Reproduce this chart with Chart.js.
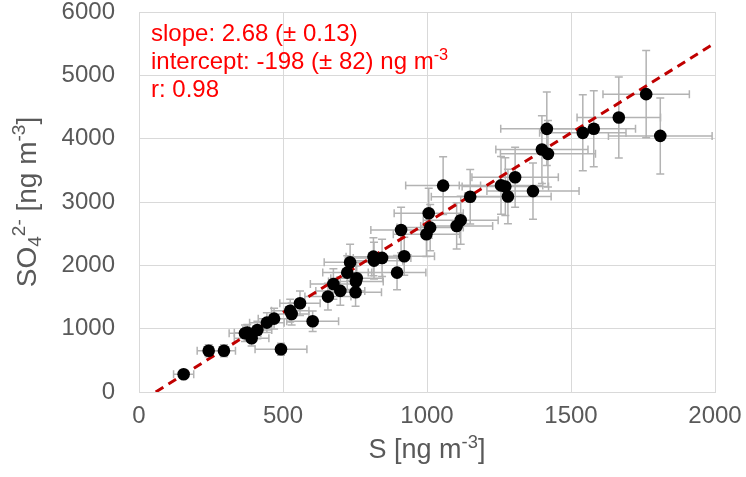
<!DOCTYPE html>
<html>
<head>
<meta charset="utf-8">
<script src="https://cdn.jsdelivr.net/npm/chart.js@4/dist/chart.umd.min.js"></script>
<style>
html,body{margin:0;padding:0;background:#fff;}
#c{display:block;}
</style>
</head>
<body>
<canvas id="c" width="746" height="477"></canvas>
<script>
// S [ng m-3]
const sValues = [155, 242, 295, 493, 368, 376, 391, 411, 444, 469, 525, 530, 559, 603, 656, 675, 699, 723, 733, 756, 753, 752, 814, 816, 844, 896, 921, 910, 998, 1011, 1006, 1056, 1103, 1117, 1150, 1257, 1272, 1306, 1281, 1368, 1416, 1399, 1420, 1541, 1579, 1666, 1761, 1810];
// SO4 2- [ng m-3]
const so4Values = [280, 652, 652, 674, 927, 937, 848, 979, 1095, 1158, 1284, 1232, 1401, 1117, 1506, 1706, 1596, 1885, 2047, 1796, 1743, 1575, 2137, 2074, 2117, 1885, 2143, 2559, 2491, 2596, 2822, 3259, 2622, 2712, 3083, 3262, 3243, 3391, 3086, 3172, 4155, 3828, 3760, 4092, 4157, 4334, 4703, 4044];
const sErrors = [35, 40, 40, 90, 55, 45, 60, 50, 60, 55, 65, 60, 70, 90, 80, 80, 85, 85, 90, 90, 95, 90, 95, 100, 100, 100, 105, 105, 115, 115, 120, 130, 125, 130, 135, 145, 150, 150, 150, 160, 160, 160, 165, 150, 145, 145, 150, 180];
const so4Errors = [45, 95, 95, 95, 130, 130, 120, 140, 155, 165, 180, 175, 195, 160, 210, 240, 225, 265, 285, 250, 245, 220, 300, 290, 295, 270, 300, 360, 350, 365, 395, 455, 365, 380, 430, 455, 455, 475, 430, 445, 580, 535, 525, 600, 600, 640, 690, 600];
// regression line end points (as drawn)
const fitX = [58, 2000];
const fitY = [0, 5510];
const xTicks = [0, 500, 1000, 1500, 2000];
const yTicks = [0, 1000, 2000, 3000, 4000, 5000, 6000];
const annotationLines = ["slope: 2.68 (± 0.13)", "intercept: -198 (± 82) ng m", "r: 0.98"];

const FONT = "'Liberation Sans', Arial, sans-serif";

const errorBars = {
  id: 'errorBars',
  beforeDatasetsDraw(chart) {
    const {ctx, scales: {x, y}} = chart;
    ctx.save();
    ctx.strokeStyle = '#B3B3B3';
    ctx.lineWidth = 1.5;
    const cap = 4;
    for (let i = 0; i < sValues.length; i++) {
      const px = x.getPixelForValue(sValues[i]);
      const py = y.getPixelForValue(so4Values[i]);
      const x1 = x.getPixelForValue(sValues[i] - sErrors[i]);
      const x2 = x.getPixelForValue(sValues[i] + sErrors[i]);
      const y1 = y.getPixelForValue(so4Values[i] - so4Errors[i]);
      const y2 = y.getPixelForValue(so4Values[i] + so4Errors[i]);
      ctx.beginPath();
      ctx.moveTo(x1, py); ctx.lineTo(x2, py);
      ctx.moveTo(x1, py - cap); ctx.lineTo(x1, py + cap);
      ctx.moveTo(x2, py - cap); ctx.lineTo(x2, py + cap);
      ctx.moveTo(px, y1); ctx.lineTo(px, y2);
      ctx.moveTo(px - cap, y1); ctx.lineTo(px + cap, y1);
      ctx.moveTo(px - cap, y2); ctx.lineTo(px + cap, y2);
      ctx.stroke();
    }
    ctx.restore();
  }
};

function drawRich(ctx, parts, x, y, size, align) {
  let total = 0;
  const small = size * 0.68;
  for (const [t, m] of parts) {
    ctx.font = (m === 'n' ? size : small) + 'px ' + FONT;
    total += ctx.measureText(t).width;
  }
  let cx = align === 'center' ? x - total / 2 : x;
  for (const [t, m] of parts) {
    ctx.font = (m === 'n' ? size : small) + 'px ' + FONT;
    let dy = 0;
    if (m === 'sup') dy = -size * 0.38;
    if (m === 'sub') dy = size * 0.18;
    ctx.fillText(t, cx, y + dy);
    cx += ctx.measureText(t).width;
  }
}

const textPlugin = {
  id: 'textPlugin',
  afterDraw(chart) {
    const ctx = chart.ctx;
    const area = chart.chartArea;
    ctx.save();
    ctx.textBaseline = 'alphabetic';
    ctx.textAlign = 'left';
    ctx.fillStyle = '#FF0000';
    drawRich(ctx, [[annotationLines[0], 'n']], 151, 41, 24, 'left');
    drawRich(ctx, [[annotationLines[1], 'n'], ['-3', 'sup']], 151, 69, 24, 'left');
    drawRich(ctx, [[annotationLines[2], 'n']], 151, 97, 24, 'left');
    ctx.fillStyle = '#595959';
    drawRich(ctx, [['S [ng m', 'n'], ['-3', 'sup'], [']', 'n']], (area.left + area.right) / 2, 458, 27, 'center');
    ctx.translate(36, (area.top + area.bottom) / 2);
    ctx.rotate(-Math.PI / 2);
    drawRich(ctx, [['SO', 'n'], ['4', 'sub'], ['2-', 'sup'], [' [ng m', 'n'], ['-3', 'sup'], [']', 'n']], 0, 0, 28, 'center');
    ctx.restore();
  }
};

new Chart(document.getElementById('c'), {
  data: {
    datasets: [
      {
        type: 'scatter',
        data: sValues.map((v, i) => ({x: v, y: so4Values[i]})),
        pointRadius: 6.3,
        pointBackgroundColor: '#000000',
        pointBorderWidth: 0,
        order: 1
      },
      {
        type: 'line',
        data: fitX.map((v, i) => ({x: v, y: fitY[i]})),
        borderColor: '#C00000',
        borderWidth: 3,
        borderDash: [9, 6],
        borderCapStyle: 'butt',
        pointRadius: 0,
        fill: false,
        order: 2
      }
    ]
  },
  options: {
    responsive: false,
    animation: false,
    layout: {padding: {top: 12, right: 31, left: 0, bottom: 0}},
    plugins: {legend: {display: false}, tooltip: {enabled: false}},
    scales: {
      x: {
        type: 'linear', min: 0, max: 2000,
        afterBuildTicks(s) { s.ticks = xTicks.map(v => ({value: v})); },
        ticks: {color: '#595959', font: {family: FONT, size: 24}, padding: 10, maxRotation: 0, callback: v => String(v)},
        grid: {color: '#D9D9D9', drawTicks: false, lineWidth: 1},
        border: {color: '#D9D9D9'},
        afterFit(s) { s.height = 85; s.paddingLeft = 0; s.paddingRight = 0; }
      },
      y: {
        type: 'linear', min: 0, max: 6000,
        afterBuildTicks(s) { s.ticks = yTicks.map(v => ({value: v})); },
        ticks: {color: '#595959', font: {family: FONT, size: 24}, padding: 24, callback: v => String(v)},
        grid: {color: '#D9D9D9', drawTicks: false, lineWidth: 1},
        border: {color: '#D9D9D9'},
        afterFit(s) { s.width = 139; s.paddingTop = 0; s.paddingBottom = 0; }
      }
    }
  },
  plugins: [errorBars, textPlugin]
});
</script>
</body>
</html>
